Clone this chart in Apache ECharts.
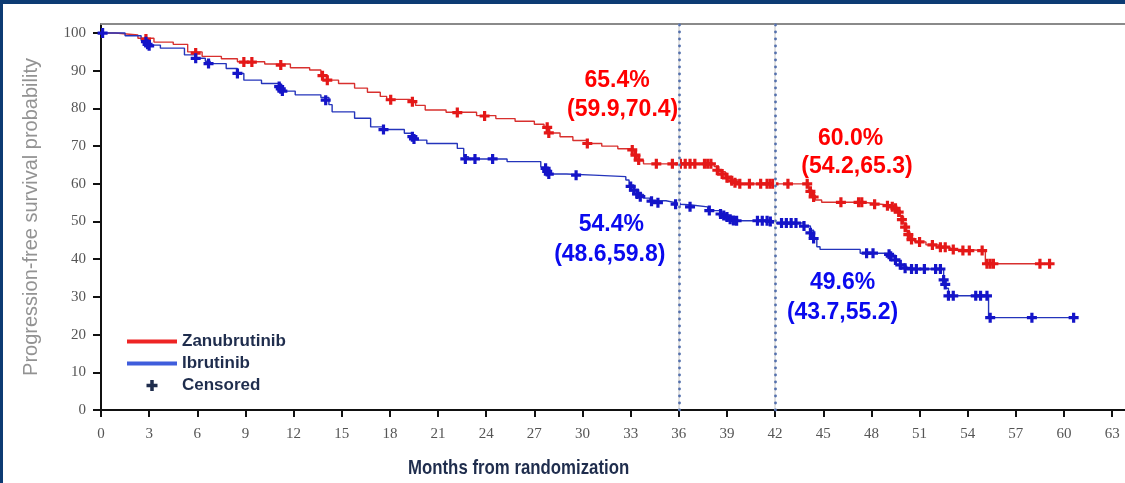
<!DOCTYPE html>
<html>
<head>
<meta charset="utf-8">
<script src="https://cdn.jsdelivr.net/npm/echarts@6/dist/echarts.min.js"></script>
<style>
  html, body { margin: 0; padding: 0; background: #fff; }
  #chart { width: 1125px; height: 483px; }
</style>
</head>
<body>
<div id="chart"></div>
<script>
// Kaplan-Meier steps [month, survival %]
const zanuCurve = [
  [0, 100], [0.9, 99.5], [2.3, 98.6], [3.3, 97.6], [4.5, 97.0], [5.4, 95.0], [6.3, 93.8],
  [7.5, 93.2], [8.5, 92.4], [10.2, 91.8], [11.8, 90.8], [13.0, 90.2], [13.7, 88.8],
  [14.1, 87.5], [14.8, 86.6], [15.8, 85.4], [16.6, 84.3], [17.4, 83.2], [17.8, 82.4],
  [19.2, 82.0], [19.6, 80.8], [20.2, 79.6], [21.5, 79.0], [23.4, 78.1], [24.6, 77.3],
  [25.8, 76.6], [27.0, 75.8], [27.6, 75.0], [27.9, 73.5], [28.6, 72.5], [29.4, 71.5],
  [30.3, 70.7], [31.2, 70.0], [32.2, 69.3], [33.1, 68.8], [33.3, 67.6], [33.5, 66.3],
  [33.8, 65.3], [38.2, 64.6], [38.5, 63.2], [38.9, 62.0], [39.3, 61.0], [39.7, 60.0],
  [44.1, 58.4], [44.3, 57.0], [44.5, 55.7], [44.9, 55.1], [47.5, 54.6], [48.6, 54.2],
  [49.4, 53.8], [49.6, 53.0], [49.8, 51.3], [50.0, 49.5], [50.2, 47.3], [50.4, 45.5],
  [50.7, 44.6], [51.4, 43.8], [52.2, 43.2], [52.9, 42.6], [53.5, 42.3], [55.1, 38.8],
  [59.3, 38.8]
];
const ibruCurve = [
  [0, 100], [1.5, 99.3], [2.5, 98.1], [2.9, 96.8], [3.7, 96.0], [5.2, 94.2], [5.9, 93.3],
  [6.5, 92.5], [6.8, 91.9], [7.8, 90.6], [8.5, 89.3], [8.9, 87.5], [10.0, 86.6],
  [11.2, 85.8], [11.3, 84.6], [12.1, 83.6], [13.7, 82.9], [14.2, 81.0], [14.4, 79.1],
  [15.8, 77.4], [16.8, 75.1], [17.6, 74.4], [18.9, 73.4], [19.4, 72.5], [19.6, 71.6],
  [20.3, 70.7], [22.2, 69.4], [22.6, 67.2], [22.9, 66.6], [25.3, 65.9], [27.4, 64.5],
  [27.7, 64.1], [27.9, 62.6], [29.0, 62.3], [30.7, 61.9], [32.7, 61.0], [32.9, 59.7],
  [33.2, 58.5], [33.5, 57.2], [33.8, 56.2], [34.2, 55.5], [35.2, 55.0], [35.8, 54.6],
  [36.1, 54.4], [36.8, 53.9], [37.8, 52.9], [38.6, 52.0], [39.0, 51.2], [39.4, 50.2],
  [41.8, 49.6], [43.8, 48.8], [44.2, 47.7], [44.4, 45.5], [44.6, 43.3], [44.8, 42.6],
  [47.3, 41.6], [49.2, 40.7], [49.5, 39.5], [49.8, 38.2], [50.2, 37.4], [52.5, 33.6],
  [52.6, 32.3], [52.8, 30.3], [55.3, 24.5], [60.6, 24.5]
];
// censored observations [month, survival %]
const zanuCensor = [
  [2.8, 98.4], [5.9, 94.7], [8.9, 92.3], [9.4, 92.3], [11.2, 91.5], [13.8, 88.7], [14.1, 87.5],
  [18.05, 82.3], [19.4, 81.8], [22.2, 78.9], [23.9, 78.0], [27.8, 75.0], [27.9, 73.5],
  [30.3, 70.7], [33.1, 69.0], [33.3, 67.6], [33.5, 66.3], [34.6, 65.3], [35.6, 65.3],
  [36.1, 65.3], [36.4, 65.3], [36.7, 65.3], [37.0, 65.3], [37.6, 65.3], [37.8, 65.3],
  [38.0, 65.3], [38.4, 63.6], [38.7, 62.6], [39.0, 61.6], [39.3, 60.8], [39.5, 60.3],
  [39.8, 60.0], [40.4, 60.0], [41.1, 60.0], [41.5, 60.0], [41.7, 60.0], [41.9, 60.0],
  [42.8, 60.0], [44.0, 60.0], [44.2, 58.0], [44.4, 56.5], [46.1, 55.1], [47.2, 55.1],
  [47.4, 55.1], [48.2, 54.6], [49.0, 54.2], [49.3, 53.9], [49.5, 53.5], [49.7, 52.5],
  [49.9, 50.5], [50.1, 48.5], [50.3, 46.5], [50.5, 45.2], [51.0, 44.6], [51.8, 43.8],
  [52.3, 43.2], [52.6, 43.2], [53.1, 42.6], [53.7, 42.3], [54.1, 42.3], [54.9, 42.3],
  [55.2, 38.8], [55.4, 38.8], [55.6, 38.8], [58.5, 38.8], [59.1, 38.8]
];
const ibruCensor = [
  [0.1, 100], [2.8, 97.7], [2.9, 97.0], [3.0, 96.6], [5.9, 93.3], [6.7, 91.9], [8.5, 89.3],
  [11.1, 85.8], [11.2, 85.2], [11.3, 84.6], [14.0, 82.2], [17.6, 74.4], [19.4, 72.5],
  [19.5, 71.9], [22.7, 66.6], [23.3, 66.6], [24.4, 66.6], [27.7, 64.1], [27.8, 63.3],
  [27.9, 62.6], [29.6, 62.3], [33.0, 59.3], [33.2, 58.3], [33.4, 57.3], [33.6, 56.6],
  [34.3, 55.4], [34.7, 55.0], [35.8, 54.6], [36.7, 53.9], [37.9, 52.9], [38.6, 52.0],
  [38.8, 51.6], [39.0, 51.2], [39.2, 50.6], [39.4, 50.3], [39.6, 50.2], [40.9, 50.2],
  [41.2, 50.2], [41.5, 50.2], [41.7, 50.0], [42.4, 49.6], [42.7, 49.6], [43.0, 49.6],
  [43.3, 49.6], [43.8, 48.8], [44.2, 47.0], [44.4, 45.5], [47.7, 41.6], [48.1, 41.6],
  [49.1, 41.3], [49.2, 40.8], [49.5, 39.8], [49.8, 38.5], [50.1, 37.6], [50.5, 37.4],
  [50.8, 37.4], [51.3, 37.4], [52.0, 37.4], [52.3, 37.4], [52.5, 34.5], [52.6, 33.3],
  [52.8, 30.3], [53.1, 30.3], [54.5, 30.3], [54.8, 30.3], [55.2, 30.3], [55.4, 24.5],
  [58.0, 24.5], [60.6, 24.5]
];
// landmark months and their estimate labels [month, survival %, text]
const landmarks = [36, 42];
const zanuNotes = [
  [32.15, 87.5, '65.4%'], [32.5, 79.6, '(59.9,70.4)'],
  [46.7, 71.9, '60.0%'], [47.1, 64.5, '(54.2,65.3)']
];
const ibruNotes = [
  [31.8, 49.1, '54.4%'], [31.7, 41.1, '(48.6,59.8)'],
  [46.2, 33.7, '49.6%'], [46.2, 25.7, '(43.7,55.2)']
];

const navy = '#1f2d4d';
const plus = 'path://M3.4,0H6.6V3.4H10V6.6H6.6V10H3.4V6.6H0V3.4H3.4Z';
const bar = 'path://M0,0H50V4H0Z';

const chart = echarts.init(document.getElementById('chart'));

const noteSeries = (name, data, color) => ({
  name: name,
  type: 'scatter',
  data: data,
  symbolSize: 0,
  silent: true,
  itemStyle: { opacity: 1 },
  label: {
    show: true,
    position: 'inside',
    formatter: p => p.value[2],
    color: color,
    fontSize: 23,
    fontWeight: 'bold',
    fontFamily: 'Liberation Sans'
  },
  z: 5
});

chart.setOption({
  animation: false,
  grid: { left: 101, right: 0, top: 24, bottom: 73 },
  graphic: [
    { type: 'rect', shape: { x: 0, y: 0, width: 1125, height: 4 }, style: { fill: '#0d3b73' } },
    { type: 'rect', shape: { x: 0, y: 0, width: 3, height: 483 }, style: { fill: '#0d3b73' } },
    {
      type: 'text', x: 408, y: 468, scaleX: 0.8,
      style: {
        text: 'Months from randomization', fill: navy,
        font: 'bold 21px "Liberation Sans"', textVerticalAlign: 'middle'
      }
    }
  ],
  legend: {
    orient: 'vertical',
    left: 122,
    top: 328,
    itemWidth: 50,
    itemHeight: 11,
    itemGap: 5,
    selectedMode: false,
    textStyle: { color: navy, fontSize: 17, fontWeight: 'bold', fontFamily: 'Liberation Sans' },
    data: [
      { name: 'Zanubrutinib', icon: bar, itemStyle: { color: '#ee2424' } },
      { name: 'Ibrutinib', icon: bar, itemStyle: { color: '#3f5ddc' } },
      { name: 'Censored', icon: plus, itemStyle: { color: navy } }
    ]
  },
  xAxis: [{
    type: 'value', min: 0, max: 63.8, interval: 3,
    splitLine: { show: false },
    axisLine: { lineStyle: { color: '#111', width: 2 } },
    axisTick: { length: 7, lineStyle: { color: '#111', width: 2 } },
    axisLabel: { margin: 17, color: '#555', fontSize: 15, fontFamily: 'Liberation Serif', showMaxLabel: false }
  }, {
    type: 'value', position: 'top', min: 0, max: 63.8,
    splitLine: { show: false },
    axisLine: { lineStyle: { color: '#8a8a8a', width: 2 } },
    axisTick: { show: false }, axisLabel: { show: false }
  }],
  yAxis: {
    type: 'value', min: 0, max: 102.4, interval: 10,
    name: 'Progression-free survival probability',
    nameLocation: 'middle',
    nameGap: 60,
    nameTextStyle: { color: '#939393', fontSize: 20, fontFamily: 'Liberation Sans' },
    splitLine: { show: false },
    axisLine: { lineStyle: { color: '#111', width: 2 } },
    axisTick: { length: 8, lineStyle: { color: '#111', width: 2 } },
    axisLabel: { margin: 15, color: '#555', fontSize: 15, fontFamily: 'Liberation Serif', showMaxLabel: false }
  },
  series: [
    {
      name: 'landmarks-bg', type: 'line', data: [], silent: true,
      markLine: {
        symbol: 'none', silent: true, label: { show: false },
        lineStyle: { color: '#e2e2e2', width: 2, type: 'solid' },
        data: landmarks.map(m => ({ xAxis: m }))
      }
    },
    {
      name: 'landmarks', type: 'line', data: [], silent: true,
      markLine: {
        symbol: 'none', silent: true, label: { show: false },
        lineStyle: { color: '#5571ad', width: 2.8, type: [0.2, 6.8], cap: 'round' },
        data: landmarks.map(m => ({ xAxis: m }))
      }
    },
    {
      name: 'Zanubrutinib', type: 'line', step: 'end', data: zanuCurve,
      showSymbol: false, lineStyle: { color: '#d8302e', width: 1.4 }, itemStyle: { color: '#ee2424' }, z: 3
    },
    {
      name: 'Ibrutinib', type: 'line', step: 'end', data: ibruCurve,
      showSymbol: false, lineStyle: { color: '#2434bb', width: 1.4 }, itemStyle: { color: '#3f5ddc' }, z: 3
    },
    {
      name: 'Censored', type: 'scatter', data: zanuCensor, symbol: plus, symbolSize: 10,
      itemStyle: { color: '#e41818', opacity: 1 }, z: 4
    },
    {
      name: 'Censored', type: 'scatter', data: ibruCensor, symbol: plus, symbolSize: 10,
      itemStyle: { color: '#1414c8', opacity: 1 }, z: 4
    },
    noteSeries('notes-z', zanuNotes, '#ff0000'),
    noteSeries('notes-i', ibruNotes, '#0a0aee')
  ]
});
</script>
</body>
</html>
